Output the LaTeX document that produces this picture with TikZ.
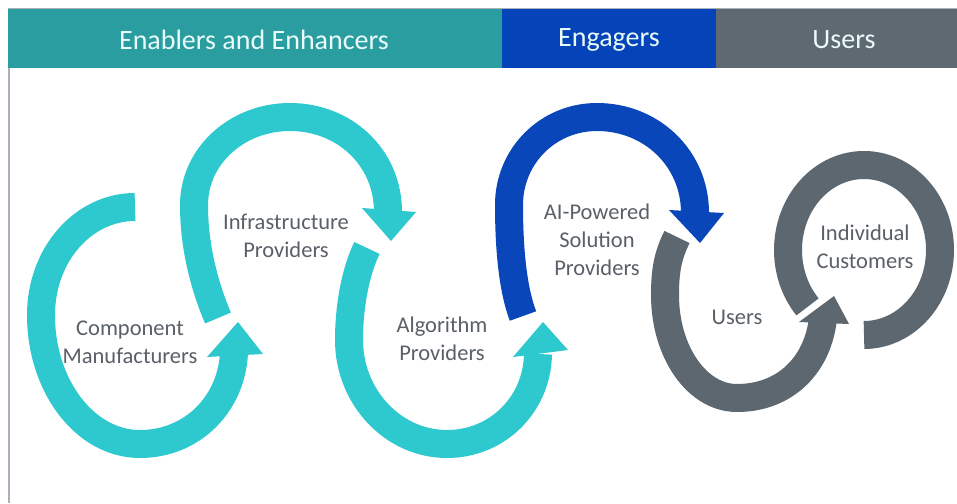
\documentclass[tikz,border=0pt]{standalone}
\usepackage{fontspec}
\setmainfont{Carlito}
\begin{document}
\begin{tikzpicture}[x=1pt,y=-1pt,
  band/.style={line width=28pt},
  headtext/.style={text=headfg, font=\fontsize{28}{30}\selectfont},
  label/.style={text=labelgrey, align=center, font=\fontsize{22.5}{28}\selectfont}]
\definecolor{teal}{HTML}{2A9DA0}
\definecolor{hblue}{HTML}{0443B8}
\definecolor{hgrey}{HTML}{5F6971}
\definecolor{headfg}{HTML}{EAFBFB}
\definecolor{cyanarrow}{HTML}{2EC9CE}
\definecolor{bluearrow}{HTML}{0846B9}
\definecolor{greyarrow}{HTML}{5D6770}
\definecolor{labelgrey}{HTML}{5A6068}
\definecolor{frame}{HTML}{A9B2BA}

\useasboundingbox (0,0) rectangle (957,503);
\fill[white] (0,0) rectangle (957,503);

% header bands
\fill[teal]  (8,9) rectangle (502,68);
\fill[hblue] (502,9) rectangle (716,68);
\fill[hgrey] (716,9) rectangle (957,68);
\draw[frame, line width=1.5pt] (8,8.5) -- (957,8.5);
\draw[frame, line width=2pt] (9,68) -- (9,503);

\node[headtext] (hEnablers) at (254,40) {Enablers and Enhancers};
\node[headtext] (hEngagers) at (609,40) {Engagers};
\node[headtext] (hUsers)    at (844,40) {Users};

% Component Manufacturers loop
\draw[band, cyanarrow] (135,207) .. controls (83,207) and (41,255) .. (41,315)
  .. controls (41,386) and (85,444) .. (140,444)
  .. controls (192,444) and (232,404) .. (234,352);
\fill[cyanarrow] (207,357) -- (263,354) -- (238,322) -- cycle;

% Infrastructure Providers loop
\draw[band, cyanarrow] (218,318) .. controls (206,290) and (194,250) .. (194,205)
  .. controls (194,156) and (237,117) .. (290,117)
  .. controls (344,117) and (388,157) .. (388,212);
\fill[cyanarrow] (362,208) -- (416,212) -- (391,241) -- cycle;

% Algorithm Providers loop
\draw[band, cyanarrow] (367,248) .. controls (356,270) and (349,305) .. (349,340)
  .. controls (349,397) and (393,444) .. (447,444)
  .. controls (497,444) and (537,405) .. (538,354);
\fill[cyanarrow] (513,357) -- (568,350) -- (543,322) -- cycle;

% AI-Powered Solution Providers loop
\draw[band, bluearrow] (523,316) .. controls (513,290) and (509,250) .. (509,205)
  .. controls (509,156) and (548,117) .. (597,117)
  .. controls (651,117) and (695,158) .. (695,213);
\fill[bluearrow] (669,210) -- (724,213) -- (700,243) -- cycle;

% Users loop
\draw[band, greyarrow] (677,237) .. controls (668,255) and (665,270) .. (665,295)
  .. controls (665,352) and (697,398) .. (737,398)
  .. controls (785,398) and (818,365) .. (823,318);
\fill[greyarrow] (799,322) -- (849,324) -- (834,296) -- cycle;

% Individual Customers ring
\draw[band, greyarrow] (864,250) ++(138:76 and 85)
  arc[start angle=138, end angle=450, x radius=76, y radius=85];

% labels
\node[label] (component) at (130,342) {Component\\Manufacturers};
\node[label] (infra)     at (286,236) {Infrastructure\\Providers};
\node[label] (algo)      at (442,339) {Algorithm\\Providers};
\node[label] (aipowered) at (597,240) {AI-Powered\\Solution\\Providers};
\node[label] (users)     at (737,317) {Users};
\node[label] (customers) at (865,247) {Individual\\Customers};
\end{tikzpicture}
\end{document}
